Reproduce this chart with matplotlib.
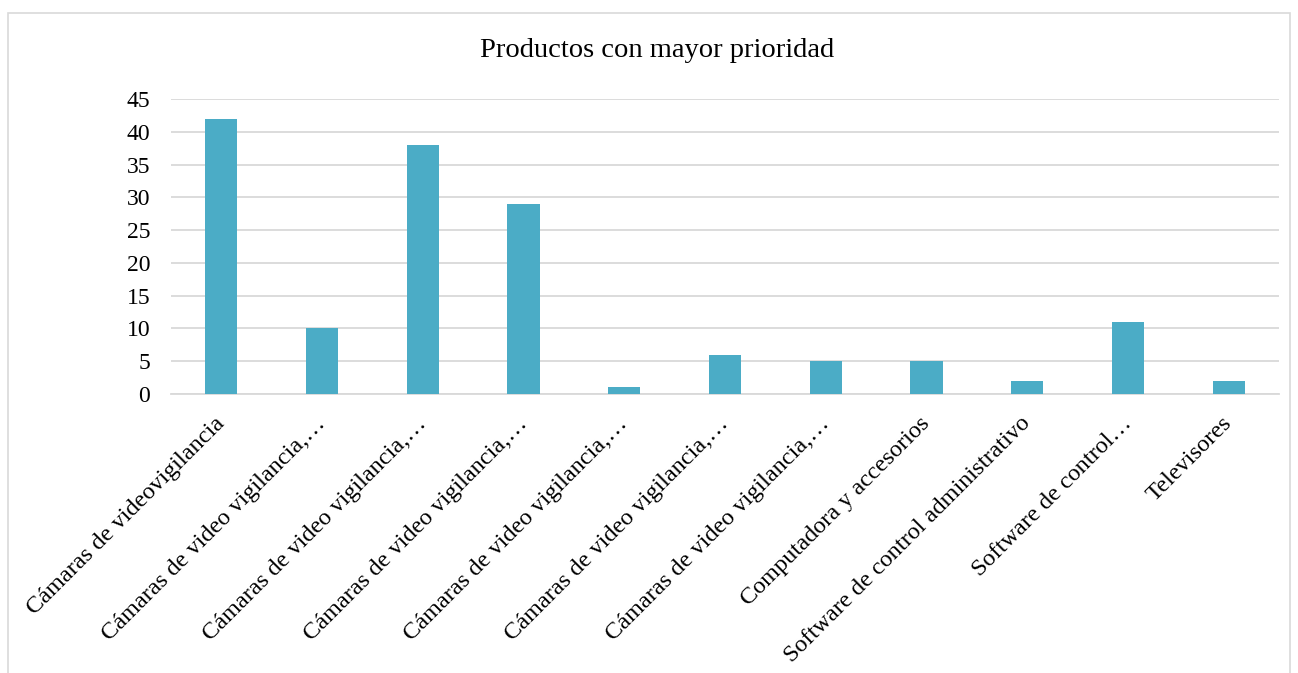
import matplotlib.pyplot as plt
from matplotlib.patches import Rectangle
from matplotlib.transforms import ScaledTranslation

categorias = [
    "Cámaras de videovigilancia",
    "Cámaras de video vigilancia,…",
    "Cámaras de video vigilancia,…",
    "Cámaras de video vigilancia,…",
    "Cámaras de video vigilancia,…",
    "Cámaras de video vigilancia,…",
    "Cámaras de video vigilancia,…",
    "Computadora y accesorios",
    "Software de control administrativo",
    "Software de control…",
    "Televisores",
]
valores = [42, 10, 38, 29, 1, 6, 5, 5, 2, 11, 2]
yticks = list(range(0, 50, 5))

plt.rcParams['font.family'] = ['Liberation Serif', 'DejaVu Serif']

fig = plt.figure(figsize=(12.98, 6.73), dpi=100)
fig.patches.append(Rectangle((0.006, -0.01), 0.988, 0.99, transform=fig.transFigure,
                             fill=False, edgecolor='#D9D9D9', linewidth=1.2))
ax = fig.add_axes([0.1317, 0.4146, 0.8537, 0.4383])

x = range(len(categorias))
ax.bar(x, valores, width=0.32, color='#4BACC6', zorder=3)

ax.set_xlim(-0.5, len(categorias) - 0.5)
ax.set_ylim(0, 45)
ax.set_yticks(yticks)
ax.tick_params(axis='y', labelsize=17, length=0, pad=15)
ax.tick_params(axis='x', length=0, pad=5)
ax.grid(axis='y', color='#D9D9D9', linewidth=1.3, zorder=0)
for s in ['top', 'right', 'left']:
    ax.spines[s].set_visible(False)
ax.spines['bottom'].set_color('#D9D9D9')
ax.spines['bottom'].set_linewidth(1.3)

ax.set_xticks(list(x))
ax.set_xticklabels(categorias, rotation=45, ha='right', rotation_mode='anchor', fontsize=17.5)
shift = ScaledTranslation(-7 / 100, -12 / 100, fig.dpi_scale_trans)
for lbl in ax.get_xticklabels():
    lbl.set_transform(lbl.get_transform() + shift)

fig.text(0.506, 0.925, "Productos con mayor prioridad", ha='center', va='center', fontsize=20.5)

fig.savefig('out.png', dpi=100)
